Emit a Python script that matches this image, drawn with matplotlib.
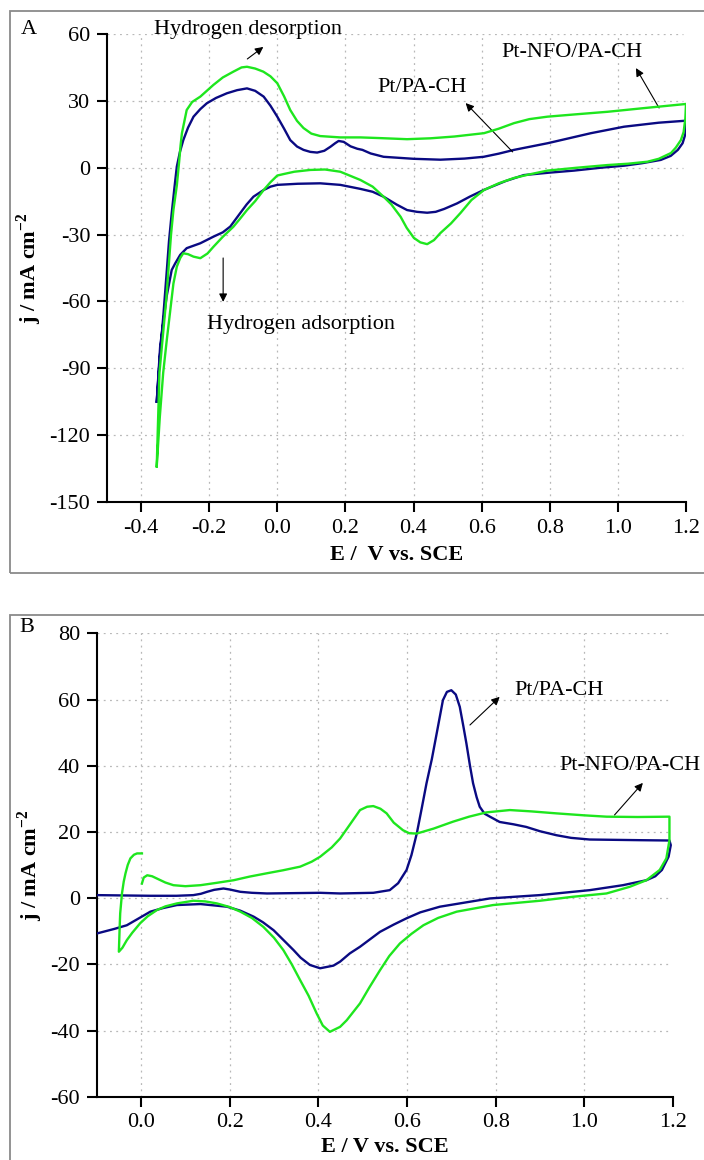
import matplotlib
matplotlib.use("Agg")
import matplotlib.pyplot as plt
from matplotlib.patches import Rectangle

plt.rcParams['font.family'] = ['Liberation Serif', 'DejaVu Serif']
plt.rcParams['mathtext.fontset'] = 'custom'
plt.rcParams['mathtext.rm'] = 'Liberation Serif'
plt.rcParams['mathtext.bf'] = 'Liberation Serif:bold'

# ---------------- Panel A data ----------------
a_nfo_E = [-0.354, -0.346, -0.326, -0.312, -0.305, -0.295, -0.288, -0.284, -0.280, -0.266, -0.250, -0.226,
           -0.188, -0.160, -0.129, -0.105, -0.089, -0.065, -0.041, -0.020, 0.000, 0.020, 0.038, 0.058, 0.077,
           0.100, 0.126, 0.185, 0.244, 0.300, 0.381, 0.450, 0.520, 0.607, 0.650, 0.695, 0.740, 0.793, 0.880,
           0.970, 1.080, 1.200,
           1.198, 1.193, 1.185, 1.170, 1.156, 1.120, 1.087, 1.030, 0.970, 0.880, 0.793, 0.740, 0.695, 0.650,
           0.607, 0.570, 0.538, 0.510, 0.479, 0.460, 0.440, 0.420, 0.401, 0.380, 0.362, 0.335, 0.312, 0.280,
           0.244, 0.185, 0.140, 0.097, 0.050, 0.020, 0.000, -0.020, -0.040, -0.065, -0.089, -0.110, -0.129,
           -0.160, -0.187, -0.205, -0.226, -0.246, -0.262, -0.276, -0.285, -0.295, -0.305, -0.315, -0.325,
           -0.335, -0.345, -0.354]
a_nfo_j = [-134, -92, -59, -30, -19, -8, 3, 10, 15.5, 25.9, 29.5, 31.9,
           37.1, 40.5, 43.1, 45.0, 45.3, 44.5, 43.1, 41.0, 37.9, 32.0, 25.9, 21.0, 17.8,
           15.3, 14.2, 13.6, 13.6, 13.3, 12.8, 13.2, 14.0, 15.5, 17.5, 20.0, 21.8, 22.9, 24.0,
           25.1, 26.8, 28.6,
           22.0, 16.0, 12.4, 9.0, 6.6, 4.0, 2.7, 1.8, 1.2, 0.0, -1.3, -3.0, -4.6, -7.0,
           -10.0, -14.5, -20.3, -25.0, -29.3, -32.5, -34.3, -33.5, -31.5, -27.0, -22.0, -16.5, -13.0, -8.5,
           -5.5, -1.8, -0.8, -1.0, -1.8, -2.8, -3.5, -6.5, -10.0, -15.0, -19.0, -23.0, -26.5,
           -31.0, -35.4, -38.5, -40.6, -39.9, -38.8, -38.4, -40.5, -44.4, -52.0, -65.0, -78.0,
           -92.0, -112.0, -134.0]

a_pt_E = [-0.354, -0.345, -0.334, -0.325, -0.318, -0.310, -0.302, -0.295, -0.286, -0.276, -0.262, -0.246,
          -0.226, -0.207, -0.180, -0.148, -0.118, -0.089, -0.065, -0.040, -0.020, 0.000, 0.020, 0.038, 0.058,
          0.077, 0.097, 0.117, 0.138, 0.156, 0.170, 0.180, 0.195, 0.215, 0.235, 0.250, 0.274, 0.312, 0.400,
          0.479, 0.550, 0.606, 0.650, 0.695, 0.794, 0.921, 1.018, 1.120, 1.200,
          1.198, 1.190, 1.176, 1.155, 1.126, 1.070, 1.018, 0.950, 0.871, 0.800, 0.724, 0.670, 0.606, 0.565,
          0.528, 0.490, 0.465, 0.440, 0.410, 0.381, 0.350, 0.312, 0.280, 0.244, 0.185, 0.126, 0.060, 0.000,
          -0.020, -0.040, -0.070, -0.090, -0.109, -0.138, -0.160, -0.187, -0.226, -0.266, -0.285, -0.300,
          -0.310, -0.325, -0.344, -0.354]
a_pt_j = [-105, -85, -65.3, -47.4, -33, -20.4, -9, 0.5, 7, 12.4, 18, 22.9,
          26.3, 28.9, 31.3, 33.4, 34.8, 35.6, 34.5, 31.9, 27.8, 22.9, 17.5, 12.4, 9.5,
          8.0, 7.1, 6.8, 7.6, 9.4, 11.0, 12.0, 11.6, 9.6, 8.5, 8.0, 6.4, 4.9, 4.0,
          3.6, 4.1, 4.9, 6.3, 8.0, 11.0, 15.5, 18.4, 20.2, 21.1,
          15.0, 11.0, 8.0, 5.3, 3.5, 2.0, 0.9, 0.0, -1.3, -2.2, -3.3, -6.0, -10.0, -13.0,
          -16.0, -18.5, -19.8, -20.2, -19.8, -19.0, -16.5, -13.0, -10.8, -9.5, -7.7, -7.0, -7.2, -7.7,
          -8.5, -10.0, -13.0, -16.5, -20.4, -26.4, -29.0, -30.9, -33.9, -36.1, -39.1, -43.0,
          -45.9, -57.8, -80.3, -105.0]

# ---------------- Panel B data ----------------
b_nfo_E = [0.002, 0.006, 0.014, 0.025, 0.036, 0.055, 0.073, 0.100, 0.134, 0.170, 0.209, 0.245, 0.284,
           0.320, 0.359, 0.385, 0.404, 0.430, 0.449, 0.470, 0.494, 0.510, 0.524, 0.540, 0.554, 0.570,
           0.591, 0.605, 0.622, 0.660, 0.704, 0.740, 0.779, 0.832, 0.880, 0.937, 1.000, 1.050, 1.120, 1.192,
           1.192, 1.185, 1.170, 1.140, 1.102, 1.050, 0.974, 0.900, 0.794, 0.712, 0.670, 0.637, 0.610, 0.584,
           0.560, 0.539, 0.515, 0.494, 0.464, 0.449, 0.426, 0.410, 0.396, 0.378, 0.359, 0.340, 0.321, 0.300,
           0.276, 0.250, 0.224, 0.200, 0.171, 0.145, 0.118, 0.081, 0.055, 0.036, 0.015, -0.002, -0.020,
           -0.032, -0.042, -0.050, -0.048, -0.047, -0.043, -0.039, -0.035, -0.030, -0.024, -0.016, -0.009,
           0.002]
b_nfo_j = [4.4, 6.2, 6.9, 6.6, 5.9, 4.7, 3.9, 3.6, 3.9, 4.6, 5.4, 6.5, 7.5,
           8.4, 9.5, 11.0, 12.5, 15.3, 18.0, 22.0, 26.6, 27.6, 27.8, 27.0, 25.6, 22.8,
           20.5, 19.6, 19.5, 21.0, 23.1, 24.6, 25.9, 26.6, 26.2, 25.6, 25.0, 24.6, 24.5, 24.6,
           17.5, 12.0, 8.5, 5.4, 3.4, 1.4, 0.4, -0.8, -2.1, -4.1, -6.0, -8.2, -10.8, -13.7,
           -17.5, -21.8, -27.0, -31.8, -36.9, -38.9, -40.4, -38.5, -34.8, -29.5, -24.8, -20.0, -15.7, -12.0,
           -8.7, -6.0, -4.1, -2.7, -1.6, -1.0, -0.8, -1.6, -2.5, -3.6, -5.5, -7.6, -10.5,
           -12.7, -15.0, -16.2, -8.0, -4.6, 1.4, 5.0, 7.5, 10.0, 12.0, 13.1, 13.5,
           13.5]

b_pt_E = [-0.100, 0.021, 0.080, 0.118, 0.135, 0.149, 0.165, 0.186, 0.200, 0.224, 0.250, 0.284, 0.404,
          0.449, 0.524, 0.561, 0.580, 0.599, 0.610, 0.622, 0.633, 0.644, 0.656, 0.667, 0.681, 0.690, 0.700,
          0.710, 0.719, 0.727, 0.734, 0.742, 0.749, 0.757, 0.764, 0.775, 0.787, 0.809, 0.840, 0.869, 0.900,
          0.937, 0.970, 1.012, 1.125, 1.192,
          1.195, 1.190, 1.175, 1.160, 1.140, 1.087, 1.012, 0.899, 0.787, 0.674, 0.630, 0.599, 0.570, 0.539,
          0.494, 0.471, 0.449, 0.434, 0.404, 0.381, 0.360, 0.344, 0.320, 0.299, 0.275, 0.254, 0.224, 0.194,
          0.134, 0.081, 0.050, 0.021, -0.010, -0.032, -0.060, -0.100]
b_pt_j = [0.9, 0.7, 0.7, 0.9, 1.3, 1.9, 2.5, 2.9, 2.6, 1.9, 1.6, 1.4, 1.6,
          1.4, 1.6, 2.4, 4.5, 8.5, 13.0, 19.5, 27.0, 34.7, 42.0, 49.8, 59.8, 62.3, 62.8,
          61.5, 57.8, 52.0, 46.7, 40.0, 34.7, 30.5, 27.6, 25.5, 24.6, 23.0, 22.3, 21.5, 20.2,
          19.0, 18.2, 17.7, 17.5, 17.4,
          16.0, 12.5, 8.5, 6.6, 5.4, 3.9, 2.4, 0.9, -0.1, -2.6, -4.3, -6.1, -8.0, -10.2,
          -14.7, -16.7, -19.2, -20.4, -21.2, -20.2, -18.0, -15.7, -12.5, -9.7, -7.3, -5.6, -3.8, -2.6,
          -1.8, -2.1, -3.0, -4.1, -6.5, -8.2, -9.3, -10.7]

a_xticks = [-0.4, -0.2, 0.0, 0.2, 0.4, 0.6, 0.8, 1.0, 1.2]
a_yticks = [-150, -120, -90, -60, -30, 0, 30, 60]
b_xticks = [0.0, 0.2, 0.4, 0.6, 0.8, 1.0, 1.2]
b_yticks = [-60, -40, -20, 0, 20, 40, 60, 80]

GREEN = '#1ee61e'
NAVY = '#0a0a82'
FS = 16

W, H = 704, 1160
fig = plt.figure(figsize=(W / 100, H / 100), dpi=100)

# panel frames
fig.patches.append(Rectangle((10 / W, 1 - 573 / H), 1.0, 562 / H, transform=fig.transFigure,
                             fill=False, edgecolor='#8a8a8a', lw=1.3))
fig.patches.append(Rectangle((10 / W, -0.05), 1.0, (1160 - 615) / H + 0.05, transform=fig.transFigure,
                             fill=False, edgecolor='#8a8a8a', lw=1.3))

axA = fig.add_axes([107 / W, 1 - 502 / H, 579 / W, 468 / H])
axB = fig.add_axes([96.7 / W, 1 - 1096.7 / H, 576.3 / W, 463.4 / H])


def style(ax, xt, yt, xlim, ylim):
    ax.set_xlim(*xlim)
    ax.set_ylim(*ylim)
    ax.set_xticks(xt)
    ax.set_yticks(yt)
    ax.set_xticklabels([f"{v:.1f}" for v in xt])
    ax.set_yticklabels([f"{v:d}" for v in yt])
    for s in ['top', 'right']:
        ax.spines[s].set_visible(False)
    for s in ['left', 'bottom']:
        ax.spines[s].set_linewidth(1.5)
    ax.tick_params(direction='out', length=7, width=1.5, labelsize=FS, pad=5)
    for v in xt[:-1]:
        ax.axvline(v, ymax=1.0, color='#b8b8b8', lw=0.9, ls=(0, (1.5, 3.5)), zorder=0)
    for v in yt[1:]:
        ax.plot([xlim[0], xt[-1] - 0.01], [v, v], color='#b8b8b8', lw=0.9, ls=(0, (1.5, 3.5)), zorder=0)


style(axA, a_xticks, a_yticks, (-0.5, 1.2), (-150, 60))
style(axB, b_xticks, b_yticks, (-0.1, 1.2), (-60, 80))

axA.plot(a_pt_E, a_pt_j, color=NAVY, lw=1.7, zorder=3)
axA.plot(a_nfo_E, a_nfo_j, color=GREEN, lw=1.7, zorder=4)
axB.plot(b_pt_E, b_pt_j, color=NAVY, lw=1.7, zorder=3)
axB.plot(b_nfo_E, b_nfo_j, color=GREEN, lw=1.7, zorder=4)

axA.set_xlabel('E /  V vs. SCE', fontsize=FS, fontweight='bold', labelpad=5)
axB.set_xlabel('E / V vs. SCE', fontsize=FS, fontweight='bold', labelpad=3)
for ax in (axA, axB):
    ax.set_ylabel(r'j / mA cm$^{\mathbf{-2}}$', fontsize=FS, fontweight='bold', labelpad=4)

fig.text(29 / W, 1 - 30 / H, 'A', fontsize=FS, ha='center', va='center')
fig.text(27 / W, 1 - 627 / H, 'B', fontsize=FS, ha='center', va='center')

ap = dict(arrowstyle='-|>', color='black', lw=0.8, mutation_scale=12, shrinkA=0, shrinkB=0)

# Panel A annotations
axA.text(-0.362, 61.8, 'Hydrogen desorption', fontsize=FS, ha='left', va='center', clip_on=False)
axA.annotate('', xy=(-0.041, 54.2), xytext=(-0.088, 48.8), arrowprops=ap)
axA.text(0.865, 51.9, 'Pt-NFO/PA-CH', fontsize=FS, ha='center', va='center')
axA.annotate('', xy=(1.053, 44.7), xytext=(1.121, 26.8), arrowprops=ap)
axA.text(0.426, 36.2, 'Pt/PA-CH', fontsize=FS, ha='center', va='center')
axA.annotate('', xy=(0.553, 29.0), xytext=(0.691, 7.1), arrowprops=ap)
axA.text(-0.206, -70.5, 'Hydrogen adsorption', fontsize=FS, ha='left', va='center')
axA.annotate('', xy=(-0.159, -60.2), xytext=(-0.159, -40.5), arrowprops=ap)

# Panel B annotations
axB.text(0.843, 62.8, 'Pt/PA-CH', fontsize=FS, ha='left', va='center')
axB.annotate('', xy=(0.809, 60.8), xytext=(0.742, 52.3), arrowprops=ap)
axB.text(0.943, 40.2, 'Pt-NFO/PA-CH', fontsize=FS, ha='left', va='center', clip_on=False)
axB.annotate('', xy=(1.132, 34.8), xytext=(1.068, 25.1), arrowprops=ap)

fig.savefig('out.png', dpi=100)
